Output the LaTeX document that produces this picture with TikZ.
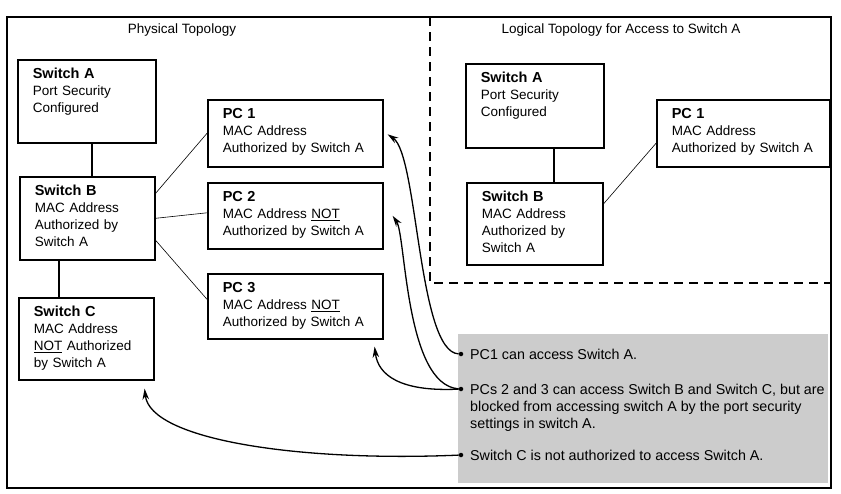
\documentclass[tikz,border=0pt]{standalone}
\usepackage{fontspec}
\setmainfont{Liberation Sans}
\usepackage{tikz}
\usetikzlibrary{arrows.meta, positioning, calc}

\newcommand{\unitname}[1]{{\fontsize{14.5}{17}\bfseries\selectfont #1}}

\begin{document}
\begin{tikzpicture}[
      x=1pt, y=-1pt,
      every node/.style={font=\fontsize{13.5}{17}\selectfont},
      unit/.style={draw, line width=1.6pt, anchor=north west, align=left,
        inner xsep=15pt, inner ysep=0pt, text height=18.5pt},
      trunk/.style={line width=1.6pt},
      lan/.style={line width=0.6pt},
      frame/.style={line width=1.5pt},
      region/.style={line width=1.5pt, dash pattern=on 9pt off 6pt},
      panel/.style={fill=black!20, anchor=north west, inner sep=0pt},
      dot/.style={circle, fill, inner sep=0pt, minimum size=4.5pt},
      note/.style={anchor=base west, align=left, inner sep=0pt,
        font=\fontsize{14.3}{17}\selectfont},
      callout/.style={line width=1.3pt, -{Stealth[length=11pt, width=6.5pt]}}
    ]
      \useasboundingbox (0,0) rectangle (841,493);
      \draw[frame] (7,17) rectangle (831,488);
      \draw[region] (430,17) -- (430,283) -- (831,283);

      % physical side
      \node (phys) at (182,30) {Physical Topology};
      \node[unit, text width=108pt, text depth=64.5pt] (swA) at (17,59)
        {\unitname{Switch A}\\ Port Security\\ Configured};
      \node[unit, text width=105pt, text depth=64.5pt] (swB) at (19,176)
        {\unitname{Switch B}\\ MAC Address\\ Authorized by\\ Switch A};
      \node[unit, text width=105pt, text depth=63.5pt] (swC) at (18,297)
        {\unitname{Switch C}\\ MAC Address\\ \underline{NOT} Authorized\\ by Switch A};
      \node[unit, text width=145pt, text depth=48.5pt] (pcA) at (207,99)
        {\unitname{PC 1}\\ MAC Address\\ Authorized by Switch A};
      \node[unit, text width=145pt, text depth=47.5pt] (pcB) at (207,182)
        {\unitname{PC 2}\\ MAC Address \underline{NOT}\\ Authorized by Switch A};
      \node[unit, text width=145pt, text depth=46.5pt] (pcC) at (207,273)
        {\unitname{PC 3}\\ MAC Address \underline{NOT}\\ Authorized by Switch A};

      \draw[trunk] ([xshift=5pt]swA.south) -- ([xshift=4.5pt]swB.north);
      \draw[trunk] ([xshift=-28.5pt]swB.south) -- ([xshift=-27.5pt]swC.north);
      \draw[lan] ([yshift=25pt]swB.east) -- (pcA.west);
      \draw[lan] (swB.east) -- ([yshift=3pt]pcB.west);
      \draw[lan] ([yshift=-22pt]swB.east) -- ([yshift=7pt]pcC.west);

      % logical side
      \node (logic) at (621,30) {Logical Topology for Access to Switch A};
      \node[unit, text width=108pt, text depth=65.5pt] (rswA) at (465,63)
        {\unitname{Switch A}\\ Port Security\\ Configured};
      \node[unit, text width=106pt, text depth=63.5pt] (rswB) at (466,182)
        {\unitname{Switch B}\\ MAC Address\\ Authorized by\\ Switch A};
      \node[unit, text width=143pt, text depth=48.5pt] (rpc) at (656,99)
        {\unitname{PC 1}\\ MAC Address\\ Authorized by Switch A};

      \draw[trunk] ([xshift=19pt]rswA.south) -- ([xshift=19pt]rswB.north);
      \draw[lan] ([yshift=20pt]rswB.east) -- ([yshift=-10pt]rpc.west);

      % notes
      \node[panel, minimum width=370pt, minimum height=149pt] (notes) at (458,334) {};
      \node[dot] (d1) at (461,354) {};
      \node[dot] (d2) at (461,389) {};
      \node[dot] (d3) at (461,455) {};
      \node[note] (n1) at (470,359) {PC1 can access Switch A.};
      \node[note] (n2) at (470,428) {PCs 2 and 3 can access Switch B and Switch C, but are\\
        blocked from accessing switch A by the port security\\ settings in switch A.};
      \node[note] (n3) at (470,460) {Switch C is not authorized to access Switch A.};

      \draw[callout] (d1) .. controls (418,352) and (418,155) .. ([xshift=4pt,yshift=-1pt]pcA.east);
      \draw[callout] (d2) .. controls (405,385) and (406,235) .. ([xshift=9pt]pcB.east);
      \draw[callout] (d2) .. controls (400,392) and (378,375) .. ([xshift=-9pt,yshift=-7pt]pcC.south east);
      \draw[callout] (d3) .. controls (300,462) and (150,440) .. ([xshift=-10pt,yshift=-8pt]swC.south east);
    \end{tikzpicture}
\end{document}
